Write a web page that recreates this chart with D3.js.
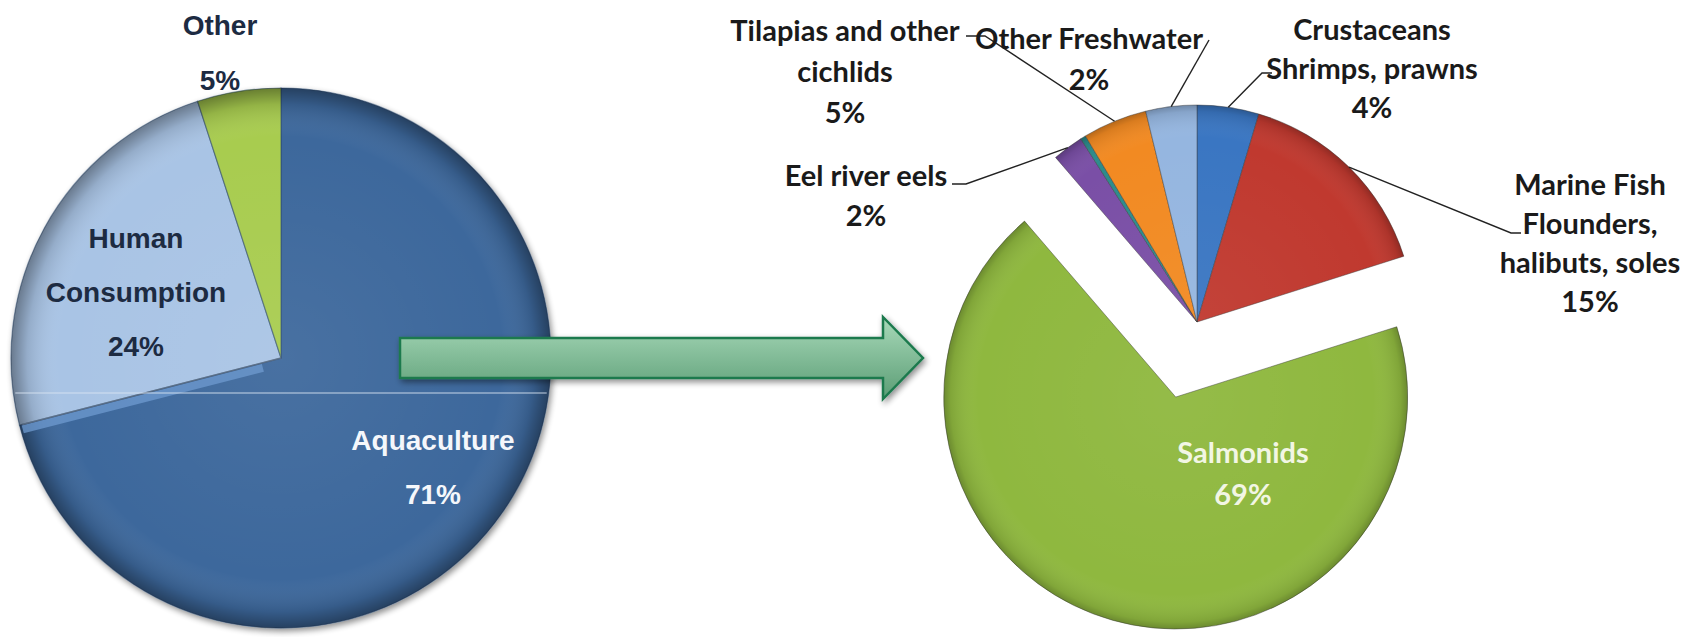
<!DOCTYPE html>
<html><head><meta charset="utf-8">
<script src="https://cdn.jsdelivr.net/npm/d3@7"></script>
<style>html,body{margin:0;padding:0;background:#fff;overflow:hidden}</style>
</head><body>
<svg id="chart" width="1699" height="637"></svg>
<script>
// ---------------- DATA ----------------
const leftCategories = ["Aquaculture", "Human Consumption", "Other"];
const leftValues = [71, 24, 5];
const leftLabelLines = [["Aquaculture", "71%"], ["Human", "Consumption", "24%"], ["Other", "5%"]];

const rightCategories = ["Crustaceans", "Marine Fish", "Salmonids", "Eel river eels", "Other (unlabelled)", "Tilapias and other cichlids", "Other Freshwater"];
const rightValues = [4.6, 15.5, 68.6, 2.3, 0.4, 4.8, 3.8];
const rightLabelLines = [
  ["Crustaceans", "Shrimps, prawns", "4%"],
  ["Marine Fish", "Flounders,", "halibuts, soles", "15%"],
  ["Salmonids", "69%"],
  ["Eel river eels", "2%"],
  [],
  ["Tilapias and other", "cichlids", "5%"],
  ["Other Freshwater", "2%"]
];

// ---------------- STYLE / LAYOUT ----------------
const leftColors = ["#3d679c", "#a9c4e5", "#a8cc50"];
const rightColors = ["#3a76c2", "#c0392f", "#8fb83f", "#7a4fa6", "#2c8c8c", "#f28a22", "#95b6e0"];
const L = {cx: 281, cy: 358, r: 270};
const R = {cx: 1197, cy: 322, r: 217, rExploded: 232, explode: 78};
const explodedIndex = 2;

const leftLabelLayout = [
  {x: 433, y: 450, dy: 54, fill: "#f5f7fb"},
  {x: 136, y: 248, dy: 54, fill: "#1d2b42"},
  {x: 220, y: 35, dy: 55, fill: "#1d2b42"}
];
const rightLabelLayout = [
  {x: 1372, y: 40, dy: 39, fill: "#1a1a1a", leader: [[1262, 73], [1272, 73]]},
  {x: 1590, y: 195, dy: 39, fill: "#1a1a1a", leader: [[1511, 233], [1521, 233]]},
  {x: 1243, y: 463, dy: 42, fill: "#f2f6e4", leader: null},
  {x: 866, y: 186, dy: 40, fill: "#1a1a1a", leader: [[966, 184], [952, 184]]},
  null,
  {x: 845, y: 41, dy: 41, fill: "#1a1a1a", leader: [[985, 36], [966, 36]]},
  {x: 1089, y: 49, dy: 41, fill: "#1a1a1a", leader: [[1209, 40]]}
];

const svg = d3.select("#chart");
const defs = svg.append("defs");

// shadow filter
const f = defs.append("filter").attr("id", "shadow").attr("x", "-10%").attr("y", "-10%").attr("width", "130%").attr("height", "130%");
f.append("feGaussianBlur").attr("in", "SourceAlpha").attr("stdDeviation", 3);
f.append("feOffset").attr("dx", 2).attr("dy", 3).attr("result", "ob");
f.append("feComponentTransfer").append("feFuncA").attr("type", "linear").attr("slope", 0.45);
const fm = f.append("feMerge");
fm.append("feMergeNode");
fm.append("feMergeNode").attr("in", "SourceGraphic");

function radial(id, r, stops) {
  const g = defs.append("radialGradient").attr("id", id)
    .attr("gradientUnits", "userSpaceOnUse").attr("cx", 0).attr("cy", 0).attr("r", r);
  stops.forEach(s => g.append("stop").attr("offset", s[0]).attr("stop-color", s[1]).attr("stop-opacity", s[2]));
}
radial("shadeL", L.r, [[0, "#ffffff", 0.06], [0.82, "#ffffff", 0], [0.94, "#000000", 0.12], [1, "#000000", 0.38]]);
radial("shadeR", R.r, [[0, "#ffffff", 0.05], [0.85, "#ffffff", 0], [0.97, "#000000", 0.10], [1, "#000000", 0.25]]);
radial("shadeRx", R.rExploded, [[0, "#ffffff", 0.05], [0.85, "#ffffff", 0], [0.97, "#000000", 0.10], [1, "#000000", 0.25]]);

defs.append("clipPath").attr("id", "clipL").append("circle").attr("r", L.r - 2);

const arrowGrad = defs.append("linearGradient").attr("id", "arrowGrad").attr("x1", 0).attr("y1", 0).attr("x2", 0).attr("y2", 1);
arrowGrad.append("stop").attr("offset", 0).attr("stop-color", "#a8d9b9");
arrowGrad.append("stop").attr("offset", 1).attr("stop-color", "#5b9d75");

const pie = d3.pie().sort(null).value(d => d);

// ---------------- LEFT PIE ----------------
const leftArcs = pie(leftValues);
const arcL = d3.arc().innerRadius(0).outerRadius(L.r);
const gL = svg.append("g").attr("transform", `translate(${L.cx},${L.cy})`);
const gLs = gL.append("g").attr("filter", "url(#shadow)");
gLs.selectAll("path.slice").data(leftArcs).join("path").attr("class", "slice")
  .attr("d", arcL).attr("fill", (d, i) => leftColors[i])
  .attr("stroke", "#2d4a70").attr("stroke-opacity", 0.55).attr("stroke-width", 1.2);
gL.selectAll("path.shade").data(leftArcs).join("path").attr("class", "shade")
  .attr("d", arcL).attr("fill", "url(#shadeL)");
// light bevel band on the Aquaculture side of its boundary with Human Consumption
{
  const a = leftArcs[0].endAngle;
  const u = [Math.sin(a), -Math.cos(a)];
  const n = [-Math.cos(a), -Math.sin(a)];
  const off = 5;
  gL.append("g").attr("clip-path", "url(#clipL)").append("line")
    .attr("x1", n[0] * off + u[0] * 20).attr("y1", n[1] * off + u[1] * 20)
    .attr("x2", n[0] * off + u[0] * L.r).attr("y2", n[1] * off + u[1] * L.r)
    .attr("stroke", "#6f9bd0").attr("stroke-width", 8).attr("stroke-opacity", 0.75);
  gL.append("line").attr("x1", 0).attr("y1", 0).attr("x2", u[0] * (L.r - 3)).attr("y2", u[1] * (L.r - 3))
    .attr("stroke", "#5d6f86").attr("stroke-width", 1.5).attr("stroke-opacity", 0.8);
}
// faint horizontal artefact line
const yLine = 35;
const hw = Math.sqrt(L.r * L.r - yLine * yLine) - 2;
gL.append("line").attr("x1", -hw).attr("x2", hw).attr("y1", yLine).attr("y2", yLine)
  .attr("stroke", "#d9e4f2").attr("stroke-opacity", 0.6).attr("stroke-width", 1.3);

leftLabelLines.forEach((lines, i) => {
  const lay = leftLabelLayout[i];
  const t = svg.append("text").attr("font-family", "Liberation Sans, Arial, sans-serif")
    .attr("font-weight", "bold").attr("font-size", 28).attr("text-anchor", "middle").attr("fill", lay.fill);
  lines.forEach((s, k) => t.append("tspan").attr("x", lay.x).attr("y", lay.y + k * lay.dy).text(s));
});

// ---------------- ARROW ----------------
svg.append("path")
  .attr("d", "M400,338H883V317L923,358L883,399V378H400Z")
  .attr("fill", "url(#arrowGrad)").attr("stroke", "#1c7a4e").attr("stroke-width", 2.5)
  .attr("filter", "url(#shadow)");

// ---------------- RIGHT PIE ----------------
const rightArcs = pie(rightValues);
const arcR = d3.arc().innerRadius(0).outerRadius(d => d.index === explodedIndex ? R.rExploded : R.r);
const gR = svg.append("g").attr("transform", `translate(${R.cx},${R.cy})`);
const sliceG = gR.selectAll("g.slice").data(rightArcs).join("g").attr("class", "slice")
  .attr("transform", (d, i) => {
    if (i !== explodedIndex) return null;
    const a = (d.startAngle + d.endAngle) / 2;
    return `translate(${R.explode * Math.sin(a)},${-R.explode * Math.cos(a)})`;
  });
sliceG.append("path").attr("d", arcR).attr("fill", (d, i) => rightColors[i])
  .attr("stroke", "#3a3a3a").attr("stroke-opacity", 0.45).attr("stroke-width", 1);
sliceG.append("path").attr("d", arcR).attr("fill", (d, i) => i === explodedIndex ? "url(#shadeRx)" : "url(#shadeR)");

// leader lines
rightArcs.forEach((d, i) => {
  const lay = rightLabelLayout[i];
  if (!lay || !lay.leader) return;
  const a = (d.startAngle + d.endAngle) / 2;
  const p0 = [R.cx + R.r * Math.sin(a), R.cy - R.r * Math.cos(a)];
  svg.append("path").attr("d", d3.line()([p0, ...lay.leader]))
    .attr("fill", "none").attr("stroke", "#222").attr("stroke-width", 1.4);
});

rightLabelLines.forEach((lines, i) => {
  const lay = rightLabelLayout[i];
  if (!lay) return;
  const t = svg.append("text").attr("font-family", "Lato, 'Open Sans', sans-serif")
    .attr("font-weight", "bold").attr("font-size", 29).attr("text-anchor", "middle").attr("fill", lay.fill);
  lines.forEach((s, k) => t.append("tspan").attr("x", lay.x).attr("y", lay.y + k * lay.dy).text(s));
});
</script>
</body></html>
